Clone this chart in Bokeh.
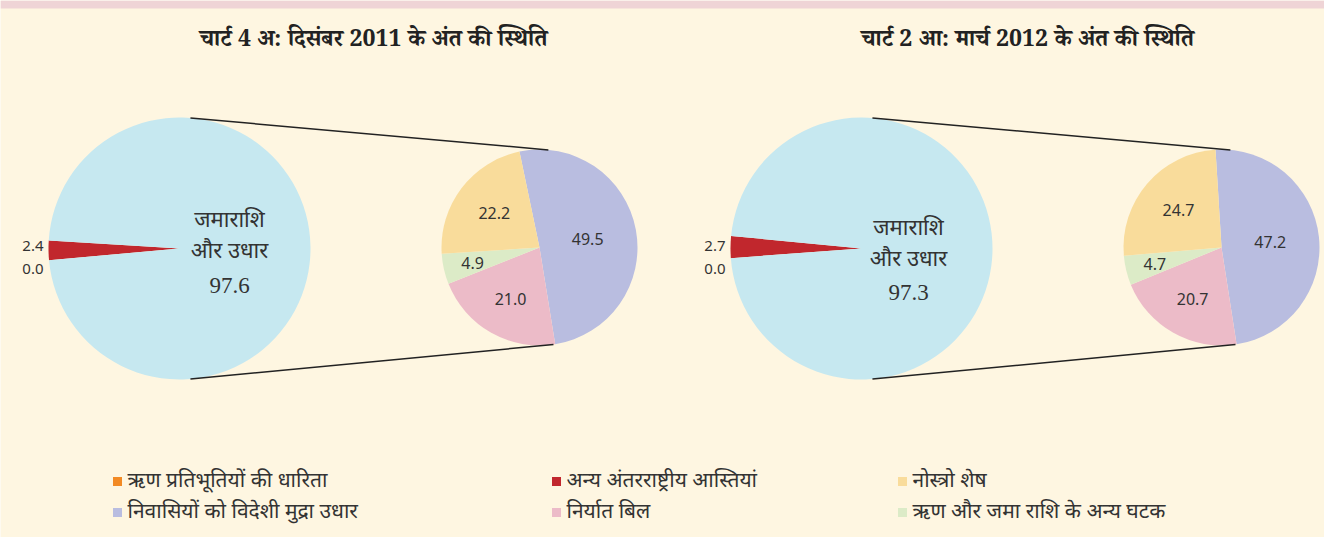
import math
from bokeh.plotting import figure
from bokeh.models import Range1d
from bokeh.core.properties import value
from bokeh.embed import file_html
from bokeh.resources import INLINE

# ---------------- data ----------------
titles = ["चार्ट 4 अ: दिसंबर 2011 के अंत की स्थिति", "चार्ट 2 आ: मार्च 2012 के अंत की स्थिति"]
big_name = ["जमाराशि", "और उधार"]
# big pie: [अन्य अंतरराष्ट्रीय आस्तियां, जमाराशि और उधार, ऋण प्रतिभूतियों की धारिता]
big_dec = [2.4, 97.6, 0.0]
big_mar = [2.7, 97.3, 0.0]
# small pie (breakdown of deposits & loans): [विदेशी मुद्रा उधार, निर्यात बिल, अन्य घटक, नोस्त्रो शेष]
small_dec = [49.5, 21.0, 4.9, 22.2]
small_mar = [47.2, 20.7, 4.7, 24.7]
legend_labels = ["ऋण प्रतिभूतियों की धारिता", "अन्य अंतरराष्ट्रीय आस्तियां", "नोस्त्रो शेष",
                 "निवासियों को विदेशी मुद्रा उधार", "निर्यात बिल", "ऋण और जमा राशि के अन्य घटक"]

# ---------------- style ----------------
BG = "#fef6e1"
STRIP = "#efd4d6"
C_BLUE = "#c6e8f0"
C_RED = "#c1272d"
C_ORANGE = "#f28a24"
C_LAV = "#b9bde0"
C_PINK = "#ecbbc8"
C_GREEN = "#dcebc7"
C_YEL = "#f9dc9b"
big_colors = [C_RED, C_BLUE, C_ORANGE]
small_colors = [C_LAV, C_PINK, C_GREEN, C_YEL]
legend_colors = [C_ORANGE, C_RED, C_YEL, C_LAV, C_PINK, C_GREEN]
TXT = "#333333"
DEV = "Noto Sans Devanagari, Noto Sans, Lato, sans-serif"
DEV_SERIF = "Noto Serif Devanagari, Noto Sans Devanagari, Liberation Serif, serif"
NUM = "Noto Sans, Open Sans, sans-serif"
SERIF = "Liberation Serif, serif"

W, H = 1324, 537

p = figure(width=W, height=H, output_backend="svg", toolbar_location=None,
           x_range=Range1d(0, W), y_range=Range1d(0, H), min_border=0)
p.axis.visible = False
p.grid.visible = False
p.outline_line_color = None
p.background_fill_color = BG
p.border_fill_color = BG

def Y(img_y):
    return H - img_y

def X(img_x):
    return img_x

# top strip
p.quad(left=[0], right=[W], bottom=[Y(8)], top=[H], fill_color=STRIP, line_color=None)

charts = [
    dict(title=titles[0], big=big_dec, small=small_dec, tx=373,
         bc=(179, 248), br=131, red_start=176.5, sc=(539, 247), sr=98, s_start=101.8,
         name_y=[221, 252, 285], name_x=229, sm_lab_r=[0.5, 0.6, 0.7, 0.58]),
    dict(title=titles[1], big=big_mar, small=small_mar, tx=1027,
         bc=(861, 248), br=131, red_start=174.5, sc=(1221, 247), sr=98, s_start=93.5,
         name_y=[229, 260, 292], name_x=908, sm_lab_r=[0.5, 0.6, 0.7, 0.58]),
]

for ch in charts:
    # title
    p.text(x=[X(ch["tx"])], y=[Y(42)], text=[ch["title"]], text_align="center",
           text_baseline="middle", text_font=value(DEV_SERIF), text_font_style="bold",
           text_font_size="23px", text_color="#222222")

    # big pie (anticlockwise from red start)
    cx, cy = X(ch["bc"][0]), Y(ch["bc"][1])
    r = ch["br"]
    tot = sum(ch["big"])
    a = ch["red_start"]
    starts, ends = [], []
    for v in ch["big"]:
        sw = v / tot * 360.0
        starts.append(math.radians(a))
        ends.append(math.radians(a + sw))
        a += sw
    for s, e, c, v in zip(starts, ends, big_colors, ch["big"]):
        if v > 0:
            p.wedge(x=[cx], y=[cy], radius=r, start_angle=[s], end_angle=[e],
                    fill_color=c, line_color=None)
    # big pie labels
    p.text(x=[X(ch["name_x"])] * 2, y=[Y(v) for v in ch["name_y"][:2]],
           text=big_name, text_align="center", text_baseline="middle",
           text_font=value(DEV), text_font_size="22px", text_color=TXT)
    p.text(x=[X(ch["name_x"])], y=[Y(ch["name_y"][2])], text=[f"{ch['big'][1]:.1f}"],
           text_align="center", text_baseline="middle", text_font=value(SERIF),
           text_font_size="23px", text_color=TXT)
    p.text(x=[cx - r - 5] * 2, y=[cy + 3, cy - 20],
           text=[f"{ch['big'][0]:.1f}", f"{ch['big'][2]:.1f}"],
           text_align="right", text_baseline="middle", text_font=value(NUM),
           text_font_size="15px", text_color=TXT)

    # small pie (clockwise)
    sx, sy = X(ch["sc"][0]), Y(ch["sc"][1])
    sr = ch["sr"]
    stot = sum(ch["small"])
    a = ch["s_start"]
    for v, c, lf in zip(ch["small"], small_colors, ch["sm_lab_r"]):
        sw = v / stot * 360.0
        p.wedge(x=[sx], y=[sy], radius=sr, start_angle=[math.radians(a - sw)],
                end_angle=[math.radians(a)], fill_color=c, line_color=None)
        mid = math.radians(a - sw / 2)
        p.text(x=[sx + lf * sr * math.cos(mid)], y=[sy + lf * sr * math.sin(mid)],
               text=[f"{v:.1f}"], text_align="center", text_baseline="middle",
               text_font=value(NUM), text_font_size="16px", text_color=TXT)
        a -= sw

    # connector lines
    for ab, asml in [(85.2, 84.8), (-85.2, -81.8)]:
        x0 = cx + r * math.cos(math.radians(ab))
        y0 = cy + r * math.sin(math.radians(ab))
        x1 = sx + sr * math.cos(math.radians(asml))
        y1 = sy + sr * math.sin(math.radians(asml))
        p.line(x=[x0, x1], y=[y0, y1], line_color="#222222", line_width=1.5)

# legend
col_x = [117, 556, 902]
row_y = [481, 512]
for i, (lab, c) in enumerate(zip(legend_labels, legend_colors)):
    cxl = col_x[i % 3]
    ryl = row_y[i // 3]
    p.rect(x=[X(cxl)], y=[Y(ryl)], width=9, height=9, fill_color=c, line_color=None)
    p.text(x=[X(cxl + 10)], y=[Y(ryl)], text=[lab], text_align="left",
           text_baseline="middle", text_font=value(DEV), text_font_size="21px",
           text_color=TXT)

open("out.html", "w").write(file_html(p, INLINE))
